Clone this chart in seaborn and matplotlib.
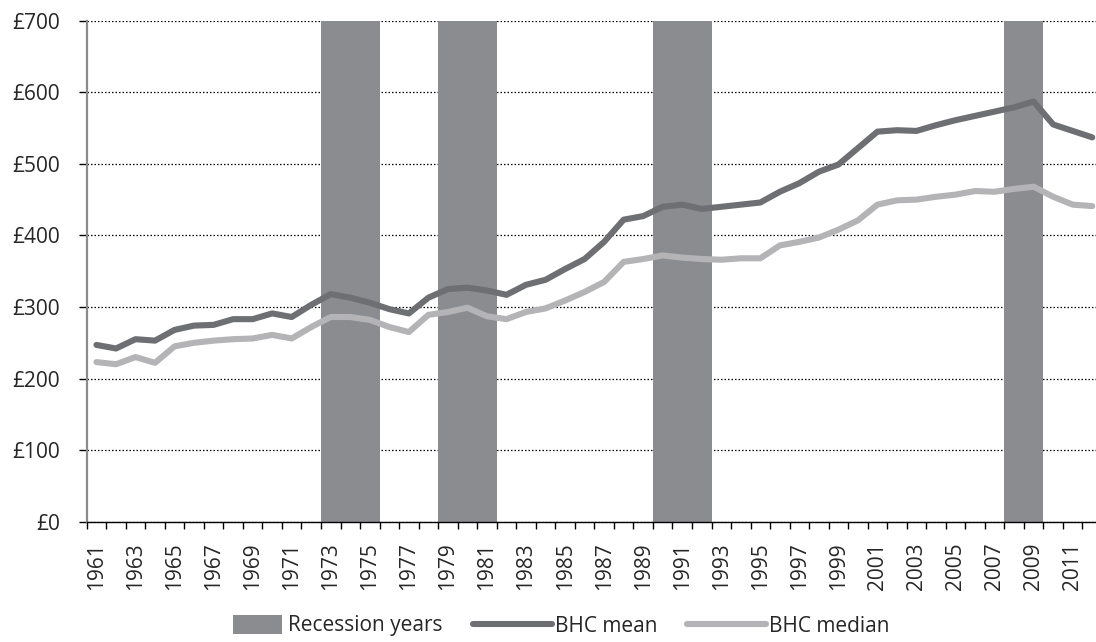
import numpy as np
import pandas as pd
import matplotlib
matplotlib.use("Agg")
import matplotlib.pyplot as plt
import matplotlib.patches as mpatches
from matplotlib.legend_handler import HandlerPatch
from matplotlib.ticker import FixedLocator, FuncFormatter
import seaborn as sns

years = list(range(1961, 2013))
bhc_mean = [247, 242, 255, 253, 268, 274, 275, 283, 283, 291, 286, 303,
            318, 313, 306, 297, 291, 313, 325, 327, 323, 317, 331, 338,
            353, 367, 391, 422, 427, 440, 443, 437, 440, 443, 446, 461,
            473, 489, 499, 522, 545, 547, 546, 554, 561, 567, 573, 579,
            587, 555, 546, 537]
bhc_median = [223, 220, 230, 222, 245, 250, 253, 255, 256, 261, 256, 272,
              286, 286, 282, 272, 265, 289, 293, 299, 287, 283, 293, 298,
              309, 321, 335, 363, 367, 372, 369, 367, 366, 368, 368, 386,
              391, 397, 408, 421, 443, 449, 450, 454, 457, 462, 461, 465,
              468, 454, 443, 441]
recession_years = [1973, 1974, 1975, 1979, 1980, 1981, 1990, 1991, 1992, 2008, 2009]
y_max = 700

bar_col = "#8b8c90"
mean_col = "#6e6f72"
median_col = "#b4b4b6"
fs = 15

df = pd.DataFrame({"year": years, "BHC mean": bhc_mean, "BHC median": bhc_median})

sns.set_style("white")
plt.rcParams["font.family"] = ["Open Sans", "DejaVu Sans"]

fig = plt.figure(figsize=(10.96, 6.42), dpi=100)
ax = fig.add_axes([86.7 / 1096, 1 - 521.7 / 642, (1096 - 86.7) / 1096, 501 / 642])

# recession shading as full height bars
ax.bar(recession_years, [y_max] * len(recession_years), width=1.0,
       color=bar_col, linewidth=0, zorder=2)

sns.lineplot(data=df, x="year", y="BHC mean", ax=ax, color=mean_col,
             linewidth=4.4, label="BHC mean", zorder=3)
sns.lineplot(data=df, x="year", y="BHC median", ax=ax, color=median_col,
             linewidth=4.4, label="BHC median", zorder=3)

ax.set_xlim(years[0] - 0.5, years[-1] + 0.5 - 6 / 19.52)
ax.set_ylim(0, y_max)

ax.set_yticks(range(0, y_max + 1, 100))
ax.yaxis.set_major_formatter(FuncFormatter(lambda v, p: "£%d" % v))
ax.yaxis.grid(True, color="black", linestyle=(0, (1.2, 1.6)), linewidth=0.9, zorder=1)
ax.set_axisbelow(True)

ax.xaxis.set_major_locator(FixedLocator(years[::2]))
ax.xaxis.set_major_formatter(FuncFormatter(lambda v, p: "%d" % v))
ax.xaxis.set_minor_locator(FixedLocator([y - 0.5 for y in years] + [years[-1] + 0.5]))
ax.tick_params(axis="x", which="major", length=0, pad=15, labelsize=fs, rotation=90)
ax.tick_params(axis="x", which="minor", length=5, width=1, color="black", bottom=True)
ax.tick_params(axis="y", which="major", length=6, width=1, color="black", left=True,
               pad=13, labelsize=fs)

for s in ["top", "right"]:
    ax.spines[s].set_visible(False)
ax.spines["left"].set_color("#8a8a8a")
ax.spines["left"].set_linewidth(1.6)
ax.spines["bottom"].set_color("black")
ax.spines["bottom"].set_linewidth(1.0)
ax.spines["bottom"].set_zorder(4)
ax.set_xlabel("")
ax.set_ylabel("")


def narrow_rect(legend, orig_handle, xdescent, ydescent, width, height, fontsize):
    return mpatches.Rectangle((width * 0.33 - xdescent, -ydescent - 1.5),
                              width * 0.62, height + 3)


if ax.get_legend():
    ax.get_legend().remove()
handles, labels = ax.get_legend_handles_labels()
rec_handle = mpatches.Patch(color=bar_col, linewidth=0)
fig.legend([rec_handle] + handles, ["Recession years"] + labels,
           loc="center", bbox_to_anchor=(0.5, 1 - 626 / 642), ncol=3, frameon=False,
           fontsize=fs, handlelength=3.8, handletextpad=0.12, columnspacing=1.45,
           handler_map={mpatches.Patch: HandlerPatch(patch_func=narrow_rect)})

fig.savefig("out.png", dpi=100)
